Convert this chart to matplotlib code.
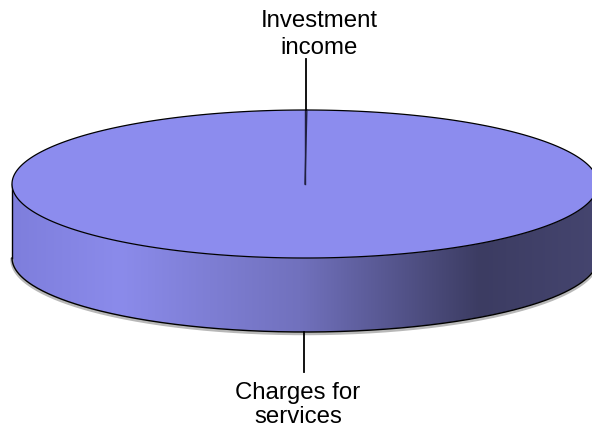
import numpy as np
import matplotlib.pyplot as plt
from matplotlib.patches import Polygon
from matplotlib.colors import to_rgb

# -----------------------------
# Data
# -----------------------------
labels = ["Investment income", "Charges for services"]
shares = [0.1, 99.9]
label_text = ["Investment\nincome", "Charges for\nservices"]

# pie geometry (pixels, y down)
CX, CY = 305, 184
RX, RY = 293, 74
DEPTH = 74

TOP_COLOR = "#8c8cee"
SIDE_STOPS = [(12, "#7e7edc"), (120, "#8b8beb"), (300, "#7171bd"),
              (480, "#3c3c62"), (598, "#45456f")]


def rim(t_deg, dy=0.0):
    t = np.radians(t_deg)
    return CX + RX * np.cos(t), CY - RY * np.sin(t) + dy


def put_label(ax, text, x, y0, step):
    # one text per line so baselines match the original
    for i, line in enumerate(text.split("\n")):
        ax.text(x, y0 + i * step, line, ha="center", va="baseline",
                fontsize=17.3, family="Liberation Sans", zorder=7)


fig = plt.figure(figsize=(5.92, 4.28), dpi=100)
ax = fig.add_axes([0, 0, 1, 1])
ax.set_xlim(0, 592)
ax.set_ylim(428, 0)
ax.axis("off")

# front side of the cylinder
t_front = np.linspace(180, 360, 300)
tx, ty = rim(t_front)
bx, by = rim(t_front[::-1], DEPTH)
side_xy = np.column_stack([np.concatenate([tx, bx]), np.concatenate([ty, by])])
side = Polygon(side_xy, closed=True, facecolor="none", edgecolor="none")
ax.add_patch(side)

xs = np.linspace(CX - RX, CX + RX, 600)
stop_x = [s[0] for s in SIDE_STOPS]
stop_c = np.array([to_rgb(s[1]) for s in SIDE_STOPS])
grad = np.stack([np.interp(xs, stop_x, stop_c[:, k]) for k in range(3)], axis=-1)
grad = np.repeat(grad[np.newaxis, :, :], 2, axis=0)
im = ax.imshow(grad, extent=[CX - RX, CX + RX, CY + RY + DEPTH + 2, CY - 2],
               aspect="auto", interpolation="bilinear", zorder=1)
im.set_clip_path(side)

# soft shadow along the bottom rim
ax.plot(bx, by + 1.5, color="#9a9a9a", lw=2.5, alpha=0.7, zorder=2)
ax.plot(bx, by, color="black", lw=1.0, zorder=3)
for t in (180, 360):
    x0, y0 = rim(t)
    ax.plot([x0, x0], [y0, y0 + DEPTH], color="black", lw=1.0, zorder=3)

# top face
t_all = np.linspace(0, 360, 600)
ex, ey = rim(t_all)
ax.add_patch(Polygon(np.column_stack([ex, ey]), closed=True,
                     facecolor=TOP_COLOR, edgecolor="black", lw=0.9, zorder=4))

# slice boundaries (start at the back, clockwise)
start = 90.0
angles = [start]
for s in shares:
    angles.append(angles[-1] - s / sum(shares) * 360)
for a in angles[:-1]:
    x1, y1 = rim(a)
    ax.plot([CX, x1], [CY, y1], color="#202040", lw=1.0, zorder=5)

# labels with leaders
mid_inv = (angles[0] + angles[1]) / 2
x_top, y_top = rim(mid_inv)
ax.plot([x_top, x_top], [y_top, 59], color="black", lw=1.3, zorder=6)
put_label(ax, label_text[0], 319, 27, 27)

mid_chg = (angles[1] + angles[2]) / 2
x_bot, y_bot = rim(mid_chg, DEPTH)
ax.plot([x_bot, x_bot], [y_bot, 372], color="black", lw=1.3, zorder=6)
put_label(ax, label_text[1], 298, 399, 24)

fig.savefig("out.png", dpi=100)
